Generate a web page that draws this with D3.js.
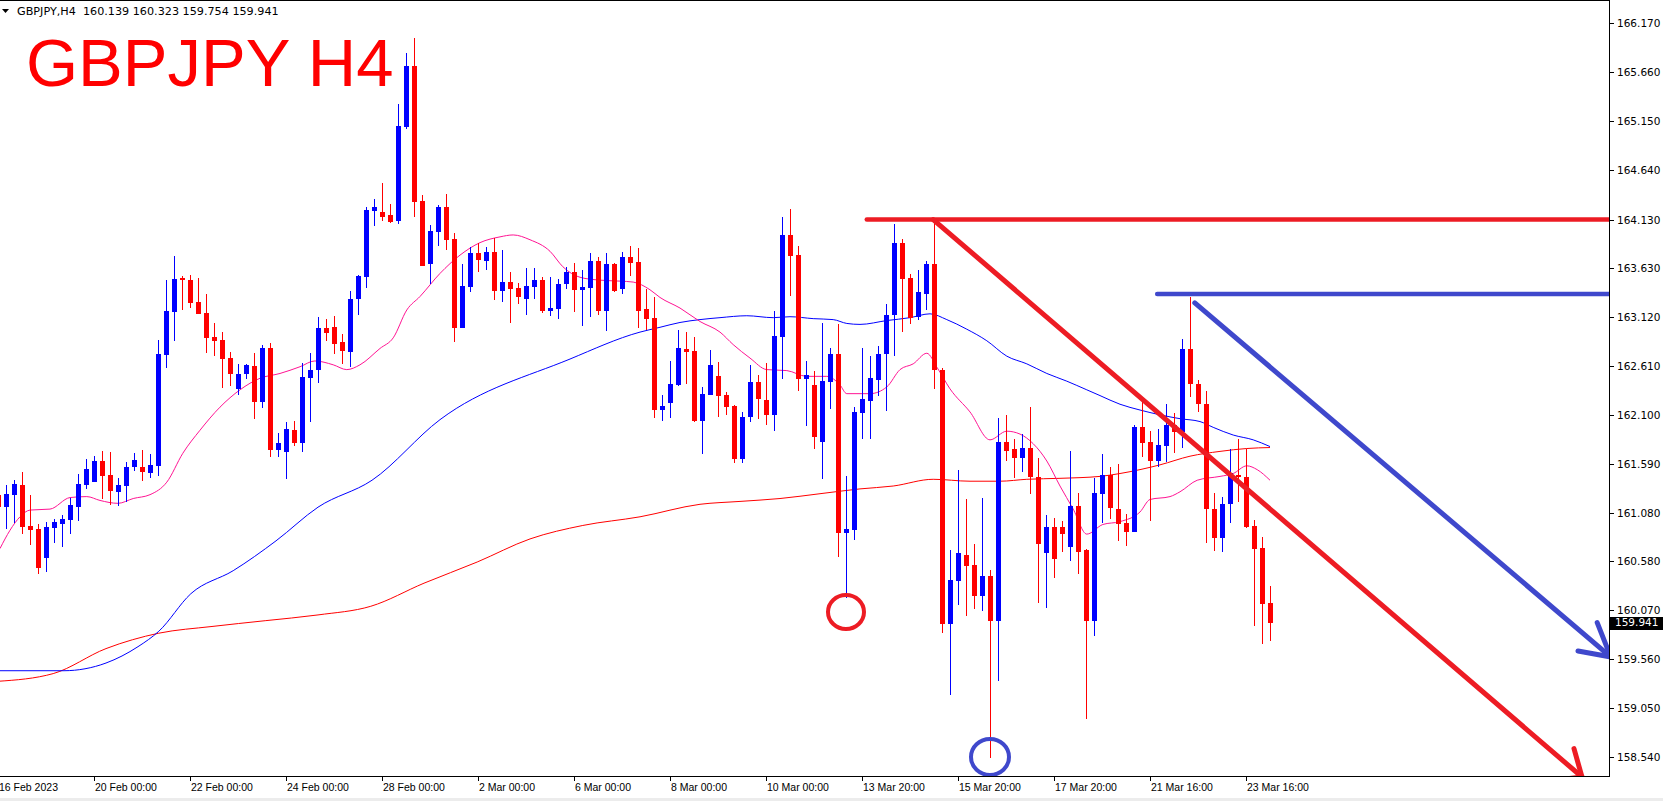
<!DOCTYPE html>
<html><head><meta charset="utf-8">
<script src="https://cdnjs.cloudflare.com/ajax/libs/d3/7.8.5/d3.min.js"></script>
<style>body{margin:0;background:#fff;overflow:hidden}svg{display:block}</style>
</head><body><svg id="c" width="1663" height="801"></svg>
<script>
// ---- data ----
const symbol = "GBPJPY,H4";
const lastOHLC = ["160.139","160.323","159.754","159.941"];
const title = "GBPJPY H4";
const opens = [161.266,161.145,161.266,161.370,160.944,160.913,160.615,160.927,160.965,161.006,
161.145,161.370,161.405,161.620,161.474,161.301,161.363,161.561,161.557,161.499,
161.571,162.725,163.172,163.526,163.501,163.273,163.158,162.909,162.878,162.691,
162.372,162.521,162.607,162.237,162.794,161.738,161.717,161.942,161.810,162.486,
162.569,163.002,163.016,162.860,162.756,163.300,163.536,164.219,164.208,164.177,
164.115,165.088,165.726,164.323,163.668,164.004,164.264,163.928,163.006,163.432,
163.786,163.699,163.796,163.391,163.484,163.422,163.304,163.432,163.501,163.183,
163.200,163.463,163.585,163.401,163.422,163.699,163.183,163.668,163.408,163.744,
163.692,163.200,163.103,162.150,162.226,162.410,162.784,162.763,162.039,162.306,
162.504,162.306,162.192,161.641,162.077,162.441,162.254,162.098,162.912,163.969,
163.761,162.472,162.410,161.821,162.445,162.732,160.875,160.903,162.122,162.247,
162.462,162.731,163.137,163.885,163.523,163.121,163.360,163.666,162.564,159.927,
160.372,160.643,160.539,160.217,160.424,159.959,161.816,161.745,161.649,161.757,
161.458,160.663,160.929,160.933,160.730,161.152,160.691,159.959,161.277,161.474,
161.121,160.979,160.885,161.973,161.817,161.624,161.779,161.994,161.925,162.784,
162.420,162.213,161.121,160.823,161.173,161.474,161.457,160.944,160.716,160.139];
const highs = [161.320,161.370,161.422,161.505,161.266,160.965,160.989,161.017,161.058,161.232,
161.485,161.641,161.672,161.724,161.713,161.447,161.606,161.703,161.734,161.693,
162.878,163.501,163.751,163.543,163.553,163.522,163.356,163.054,162.961,162.753,
162.628,162.628,162.746,162.826,162.850,161.907,162.025,162.035,162.642,162.746,
163.117,163.096,163.131,162.943,163.390,163.553,164.264,164.343,164.510,164.291,
165.331,165.861,166.017,164.385,164.073,164.281,164.400,163.987,163.668,163.841,
163.883,163.841,163.935,163.813,163.588,163.467,163.626,163.623,163.536,163.529,
163.512,163.640,163.682,163.606,163.779,163.737,163.779,163.675,163.796,163.855,
163.831,163.404,163.321,162.306,162.660,162.978,162.961,162.909,162.389,162.774,
162.649,162.337,162.202,162.129,162.618,162.514,162.642,163.179,164.156,164.240,
163.855,162.660,162.555,163.051,162.795,163.044,161.464,162.178,162.795,162.712,
162.815,163.256,164.084,163.924,163.562,163.606,163.694,164.143,162.592,160.691,
161.526,161.228,160.762,161.240,160.484,162.067,162.103,161.848,161.896,162.182,
161.649,161.060,161.029,161.001,161.725,161.287,160.703,161.446,161.693,161.561,
161.589,161.069,161.994,162.254,161.932,161.953,162.213,162.122,162.885,163.328,
162.462,162.348,161.291,161.242,161.741,161.845,161.741,161.007,160.833,160.323];
const lows = [161.080,160.913,160.972,160.861,160.747,160.445,160.469,160.771,160.729,160.861,
160.996,161.329,161.405,161.225,161.162,161.156,161.190,161.519,161.415,161.440,
161.467,162.583,162.871,163.193,163.214,163.144,162.746,162.715,162.382,162.403,
162.309,162.476,162.060,162.174,161.665,161.665,161.429,161.779,161.717,162.029,
162.434,162.871,162.729,162.632,162.600,163.141,163.422,164.066,164.115,164.094,
164.083,165.074,164.160,163.647,163.463,163.855,163.813,162.860,162.999,163.380,
163.588,163.605,163.294,163.276,163.058,163.252,163.138,163.304,163.155,163.127,
163.093,163.408,163.172,163.023,163.113,163.138,162.975,163.380,163.356,163.546,
163.006,162.982,162.070,162.039,162.070,162.403,162.420,162.029,161.693,162.306,
162.077,162.098,161.603,161.603,162.025,162.056,161.994,161.935,162.472,163.335,
162.348,161.984,161.745,161.433,162.161,160.626,160.200,160.799,161.852,161.852,
162.300,162.135,162.711,162.966,163.049,163.081,163.189,162.373,159.835,159.191,
160.118,160.006,160.086,160.066,158.535,159.338,161.617,161.446,161.510,161.279,
160.146,160.094,160.404,160.675,160.583,160.444,158.941,159.800,160.979,161.014,
160.788,160.740,160.885,161.665,160.999,161.554,161.613,161.700,161.752,162.289,
162.126,160.771,160.688,160.677,160.979,161.197,160.920,159.900,159.720,159.754];
const closes = [161.145,161.277,161.381,160.937,160.903,160.511,160.937,160.982,161.017,161.162,
161.381,161.537,161.620,161.468,161.312,161.370,161.557,161.634,161.509,161.578,
162.732,163.179,163.512,163.501,163.266,163.151,162.902,162.871,162.684,162.528,
162.528,162.618,162.237,162.794,161.738,161.807,161.952,161.810,162.493,162.569,
163.002,162.954,162.840,162.767,163.304,163.543,164.229,164.260,164.160,164.104,
165.102,165.726,164.312,163.647,164.011,164.260,163.921,163.006,163.439,163.786,
163.709,163.796,163.391,163.484,163.408,163.321,163.439,163.501,163.183,163.210,
163.460,163.585,163.401,163.429,163.699,163.183,163.668,163.391,163.744,163.682,
163.183,163.100,162.150,162.192,162.420,162.791,162.757,162.039,162.316,162.618,
162.296,162.185,161.641,162.077,162.441,162.264,162.098,162.919,163.969,163.751,
162.472,162.514,161.873,162.452,162.732,160.875,160.913,162.129,162.264,162.483,
162.732,163.137,163.885,163.515,163.109,163.376,163.666,162.564,159.927,160.384,
160.663,160.531,160.217,160.424,159.959,161.817,161.725,161.649,161.757,161.458,
160.762,160.929,160.603,160.862,161.152,160.675,159.959,161.287,161.474,161.135,
160.962,160.885,161.973,161.811,161.624,161.783,161.994,161.925,162.784,162.420,
162.213,161.121,160.823,161.173,161.492,161.457,160.937,160.705,160.133,159.941];

const priceTicks = ["166.170","165.660","165.150","164.640","164.130","163.630","163.120","162.610",
"162.100","161.590","161.080","160.580","160.070","159.560","159.050","158.540"];
const dateTickIndex = [0,12,24,36,48,60,72,84,96,108,120,132,144,156];
const dateTickLabels = ["16 Feb 2023","20 Feb 00:00","22 Feb 00:00","24 Feb 00:00","28 Feb 00:00",
"2 Mar 00:00","6 Mar 00:00","8 Mar 00:00","10 Mar 00:00","13 Mar 20:00","15 Mar 20:00",
"17 Mar 20:00","21 Mar 16:00","23 Mar 16:00"];

// moving averages, sampled [bar index, price]
const maFast = [[0.25,160.71],[1.5,160.90],[2.75,161.04],[4,161.11],[6.5,161.12],[9,161.24],[11.1,161.25],
[12.75,161.21],[15,161.18],[16.9,161.23],[19,161.27],[21.1,161.40],[23.1,161.70],[25.25,161.94],
[27.75,162.18],[30.25,162.36],[32.75,162.48],[35.25,162.53],[37.75,162.60],[39.6,162.66],[41.9,162.62],
[43.6,162.57],[45.25,162.62],[47.75,162.79],[49.4,162.90],[51.1,163.19],[52.75,163.33],[55.25,163.57],
[57.75,163.76],[60.25,163.89],[62.75,163.95],[64.4,163.97],[66.5,163.92],[69,163.80],[70.6,163.64],
[72.75,163.53],[75.25,163.50],[77.75,163.49],[79.4,163.48],[81.5,163.40],[82.75,163.32],[85.25,163.21],
[87.75,163.07],[90.25,162.96],[91.9,162.83],[94,162.69],[96.1,162.57],[98.6,162.56],[101.1,162.50],
[103.6,162.50],[105.25,162.41],[106.1,162.32],[109,162.32],[111.1,162.39],[112.75,162.57],[114.4,162.63],
[116.1,162.74],[117.4,162.59],[119,162.37],[121.5,162.13],[124,161.84],[126.1,161.93],[127.75,161.90],
[129.4,161.80],[131.1,161.62],[132.75,161.36],[134.4,161.12],[136.1,160.86],[138.1,160.96],[140.25,160.99],
[142.75,161.09],[144,161.22],[146.5,161.25],[147.75,161.30],[149.9,161.42],[152.75,161.46],[154.4,161.49],
[156.1,161.57],[157.4,161.53],[159,161.42]];
const maMid = [[0,159.44],[8.25,159.44],[13.5,159.52],[17.5,159.69],[20.1,159.85],[24.1,160.24],[29.4,160.48],
[34.75,160.79],[40,161.14],[46.75,161.42],[55.25,162.05],[71.5,162.68],[80.25,162.96],[82.75,163.01],
[85.25,163.06],[87.75,163.09],[90.25,163.11],[93.6,163.13],[96.9,163.11],[99,163.12],[101.9,163.10],
[104.4,163.09],[106.1,163.05],[107.75,163.04],[111.1,163.08],[114,163.11],[116.5,163.15],[118.6,163.09],
[121.1,162.99],[123.6,162.87],[126.1,162.71],[128.6,162.63],[131.1,162.53],[133.6,162.45],[136.1,162.36],
[137.75,162.30],[140.25,162.21],[142.75,162.15],[145.25,162.10],[147.75,162.06],[150.25,162.03],
[151.9,161.97],[154.4,161.89],[156.9,161.84],[159,161.77]];
const maSlow = [[0,159.33],[6.9,159.41],[13.5,159.67],[20.1,159.83],[26.75,159.90],[33.4,159.96],[40,160.02],
[46.6,160.11],[53.25,160.35],[59.9,160.57],[66.5,160.81],[73.1,160.95],[80.25,161.04],[87.75,161.17],
[92.75,161.20],[97.75,161.23],[102.75,161.28],[107.75,161.33],[111.9,161.36],[116.9,161.43],[121.5,161.41],
[125.25,161.41],[128.6,161.43],[132.75,161.44],[137.75,161.46],[140.25,161.49],[145.25,161.58],[149,161.67],
[152.75,161.72],[156.1,161.75],[159,161.76]];

// hand-drawn annotations [bar index, price]
const resistanceLine = [[108.6,164.13],[201.5,164.13]];
const blueLevelLine = [[144.9,163.356],[201.5,163.356]];
const redTrend = [[116.9,164.13],[198.0,158.335]];
const redArrowHead = [[197.0,158.63],[198.0,158.335],[194.4,158.30]];
const blueTrend = [[149.6,163.263],[201.6,159.583]];
const blueArrowHead = [[199.9,159.94],[201.6,159.583],[197.5,159.645]];
const redCircle = {i:106, p:160.05};
const blueCircle = {i:124, p:158.543};

// ---- drawing ----
const svg = d3.select("#c");
const W = 1663, H = 801, plotR = 1609, plotB = 776;
const x = d3.scaleLinear().domain([0,159]).range([-2,1270]);
const y = d3.scaleLinear().domain([158.54,166.17]).range([757.3,23.3]);
const BULL = "#0000FF", BEAR = "#FF0000";

svg.append("rect").attr("width",W).attr("height",H).attr("fill","#fff");
svg.append("rect").attr("x",0).attr("y",798).attr("width",W).attr("height",3).attr("fill","#ececec");

svg.append("defs").append("clipPath").attr("id","plot")
  .append("rect").attr("x",0).attr("y",0).attr("width",plotR).attr("height",plotB);

const plot = svg.append("g").attr("clip-path","url(#plot)");

// moving averages
const line = d3.line().x(d=>x(d[0])).y(d=>y(d[1])).curve(d3.curveMonotoneX);
plot.append("path").datum(maSlow).attr("d",line).attr("fill","none").attr("stroke","#FF0000").attr("stroke-width",1);
plot.append("path").datum(maMid).attr("d",line).attr("fill","none").attr("stroke","#0000FF").attr("stroke-width",1);
plot.append("path").datum(maFast).attr("d",line).attr("fill","none").attr("stroke","#FF1493").attr("stroke-width",1);

// candles
const bars = d3.range(opens.length).map(i=>({i,o:opens[i],h:highs[i],l:lows[i],c:closes[i]}));
const cg = plot.append("g").attr("shape-rendering","crispEdges");
cg.selectAll("line.w").data(bars).join("line")
  .attr("x1",d=>x(d.i)+0.5).attr("x2",d=>x(d.i)+0.5)
  .attr("y1",d=>y(d.h)).attr("y2",d=>y(d.l))
  .attr("stroke",d=>d.c>=d.o?BULL:BEAR).attr("stroke-width",1);
cg.selectAll("rect.b").data(bars).join("rect")
  .attr("x",d=>x(d.i)-2).attr("width",5)
  .attr("y",d=>y(Math.max(d.o,d.c)))
  .attr("height",d=>Math.max(1,Math.abs(y(d.o)-y(d.c))))
  .attr("fill",d=>d.c>=d.o?BULL:BEAR);

// annotations
const PRED = "#ED1C24", PBLUE = "#3F48CC";
const straight = d3.line().x(d=>x(d[0])).y(d=>y(d[1]));
function stroke(data,col,w){
  plot.append("path").datum(data).attr("d",straight).attr("fill","none")
    .attr("stroke",col).attr("stroke-width",w).attr("stroke-linecap","round").attr("stroke-linejoin","round");
}
stroke(resistanceLine,PRED,4.5);
stroke(blueLevelLine,PBLUE,4.5);
stroke(redTrend,PRED,5);
stroke(redArrowHead,PRED,5);
stroke(blueTrend,PBLUE,5);
stroke(blueArrowHead,PBLUE,5);
plot.append("ellipse").attr("cx",x(redCircle.i)).attr("cy",y(redCircle.p)).attr("rx",18).attr("ry",17)
  .attr("fill","none").attr("stroke",PRED).attr("stroke-width",4);
plot.append("ellipse").attr("cx",x(blueCircle.i)).attr("cy",y(blueCircle.p)).attr("rx",19).attr("ry",18)
  .attr("fill","none").attr("stroke",PBLUE).attr("stroke-width",4);

// frame
const fg = svg.append("g").attr("shape-rendering","crispEdges");
fg.append("line").attr("x1",0).attr("x2",plotR).attr("y1",0.5).attr("y2",0.5).attr("stroke","#000");
fg.append("line").attr("x1",plotR+0.5).attr("x2",plotR+0.5).attr("y1",0).attr("y2",plotB+1).attr("stroke","#000");
fg.append("line").attr("x1",0).attr("x2",plotR+1).attr("y1",plotB+0.5).attr("y2",plotB+0.5).attr("stroke","#000");

// price axis
const pa = svg.append("g");
priceTicks.forEach(t=>{
  const yy = Math.round(y(+t))+0.5;
  pa.append("line").attr("x1",plotR+1).attr("x2",plotR+5).attr("y1",yy).attr("y2",yy)
    .attr("stroke","#000").attr("shape-rendering","crispEdges");
  pa.append("text").attr("x",plotR+8).attr("y",yy).attr("dy","0.36em")
    .attr("font-family","DejaVu Sans").attr("font-size","10.5px").attr("fill","#000").text(t);
});
// current price tag
const cy = y(+lastOHLC[3]);
pa.append("rect").attr("x",plotR+1).attr("y",Math.round(cy)-6).attr("width",W-plotR-1).attr("height",13).attr("fill","#000");
pa.append("text").attr("x",plotR+6).attr("y",cy).attr("dy","0.36em")
  .attr("font-family","DejaVu Sans").attr("font-size","10.5px").attr("fill","#fff").text(lastOHLC[3]);

// time axis
const ta = svg.append("g");
dateTickIndex.forEach((ix,k)=>{
  const xx = x(ix);
  if(k>0) ta.append("line").attr("x1",xx+0.5).attr("x2",xx+0.5).attr("y1",plotB+1).attr("y2",plotB+5)
    .attr("stroke","#000").attr("shape-rendering","crispEdges");
  ta.append("text").attr("x",k===0?-1:xx+1).attr("y",791)
    .attr("font-family","Liberation Sans").attr("font-size","10.5px").attr("fill","#000").text(dateTickLabels[k]);
});

// header
svg.append("path").attr("d","M2,9 L9,9 L5.5,13 Z").attr("fill","#000");
svg.append("text").attr("x",17).attr("y",15).attr("font-family","DejaVu Sans").attr("font-size","11.2px")
  .attr("fill","#000").style("white-space","pre").text(symbol+"  "+lastOHLC.join(" "));
svg.append("text").attr("x",26).attr("y",86).attr("font-family","Liberation Sans, Arial").attr("font-size","67px")
  .attr("fill","#FF0000").text(title);
</script></body></html>
